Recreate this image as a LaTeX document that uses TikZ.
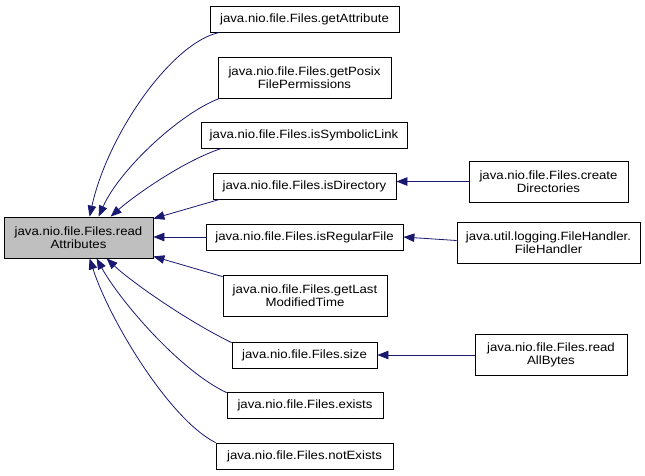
\documentclass[tikz,border=0pt]{standalone}
\usepackage{fontspec}
\setmainfont{Liberation Sans}[FakeStretch=1.1]
\usetikzlibrary{arrows.meta}
\definecolor{edgeblue}{RGB}{25,25,112}
\definecolor{mainfill}{RGB}{191,191,191}
\tikzset{
  box/.style={draw=black, line width=0.8pt, fill=white, inner sep=0pt, align=center,
    font=\fontsize{12}{13}\selectfont},
  mainbox/.style={box, fill=mainfill},
  edgeline/.style={draw=edgeblue, line width=0.8pt, -{Triangle[length=11pt,width=8.5pt]}},
}
\begin{document}
\begin{tikzpicture}[x=1pt,y=-1pt]
\useasboundingbox (0,0) rectangle (645,475);
% main node
\node[mainbox, minimum width=149pt, minimum height=41pt] (ra) at (78.5,237.5) {java.nio.file.Files.read\\Attributes};
% middle column
\node[box, minimum width=189pt, minimum height=26pt] (ga) at (304.5,19) {java.nio.file.Files.getAttribute};
\node[box, minimum width=173pt, minimum height=41pt] (gp) at (304.5,77.5) {java.nio.file.Files.getPosix\\FilePermissions};
\node[box, minimum width=206pt, minimum height=26pt] (sl) at (304,135) {java.nio.file.Files.isSymbolicLink};
\node[box, minimum width=183pt, minimum height=26pt] (dir) at (304.5,186) {java.nio.file.Files.isDirectory};
\node[box, minimum width=197pt, minimum height=26pt] (reg) at (304.5,237) {java.nio.file.Files.isRegularFile};
\node[box, minimum width=164pt, minimum height=41pt] (lm) at (305,295.5) {java.nio.file.Files.getLast\\ModifiedTime};
\node[box, minimum width=145pt, minimum height=26pt] (sz) at (304.5,355) {java.nio.file.Files.size};
\node[box, minimum width=156pt, minimum height=26pt] (ex) at (305,405) {java.nio.file.Files.exists};
\node[box, minimum width=177pt, minimum height=26pt] (ne) at (304.5,456) {java.nio.file.Files.notExists};
% right column
\node[box, minimum width=159pt, minimum height=41pt] (cd) at (548.5,181.5) {java.nio.file.Files.create\\Directories};
\node[box, minimum width=183pt, minimum height=41pt] (fh) at (548.5,242.5) {java.util.logging.FileHandler.\\FileHandler};
\node[box, minimum width=152pt, minimum height=41pt] (rab) at (551,354.5) {java.nio.file.Files.read\\AllBytes};
% edges into readAttributes
\draw[edgeline] ([xshift=10pt]ga.south west) .. controls +(-48,10) and +(18,-82) .. ([xshift=86pt]ra.north west);
\draw[edgeline] ([xshift=2pt]gp.south west) .. controls +(-40,15) and +(21,-47) .. ([xshift=95pt]ra.north west);
\draw[edgeline] ([xshift=21pt]sl.south west) .. controls +(-37,12) and +(25,-22) .. ([xshift=107pt]ra.north west);
\draw[edgeline] ([xshift=7pt]dir.south west) -- ([yshift=-2pt]ra.north east);
\draw[edgeline] (reg.west) -- (reg.west -| ra.east);
\draw[edgeline] ([yshift=-2pt]lm.north west) -- ([yshift=2pt]ra.south east);
\draw[edgeline] ([yshift=-1pt]sz.north west) .. controls +(-47,-23) and +(23,22) .. ([xshift=103pt]ra.south west);
\draw[edgeline] ([yshift=-1pt]ex.north west) .. controls +(-47,-22) and +(23,42) .. ([xshift=93pt]ra.south west);
\draw[edgeline] ([yshift=0pt]ne.north west) .. controls +(-46,-23) and +(20,62) .. ([xshift=86pt]ra.south west);
% edges from right column
\draw[edgeline] (cd.west) -- (cd.west -| dir.east);
\draw[edgeline] ([yshift=2pt]fh.west) -- (reg.east);
\draw[edgeline] (rab.west |- sz.east) -- (sz.east);
\end{tikzpicture}
\end{document}
